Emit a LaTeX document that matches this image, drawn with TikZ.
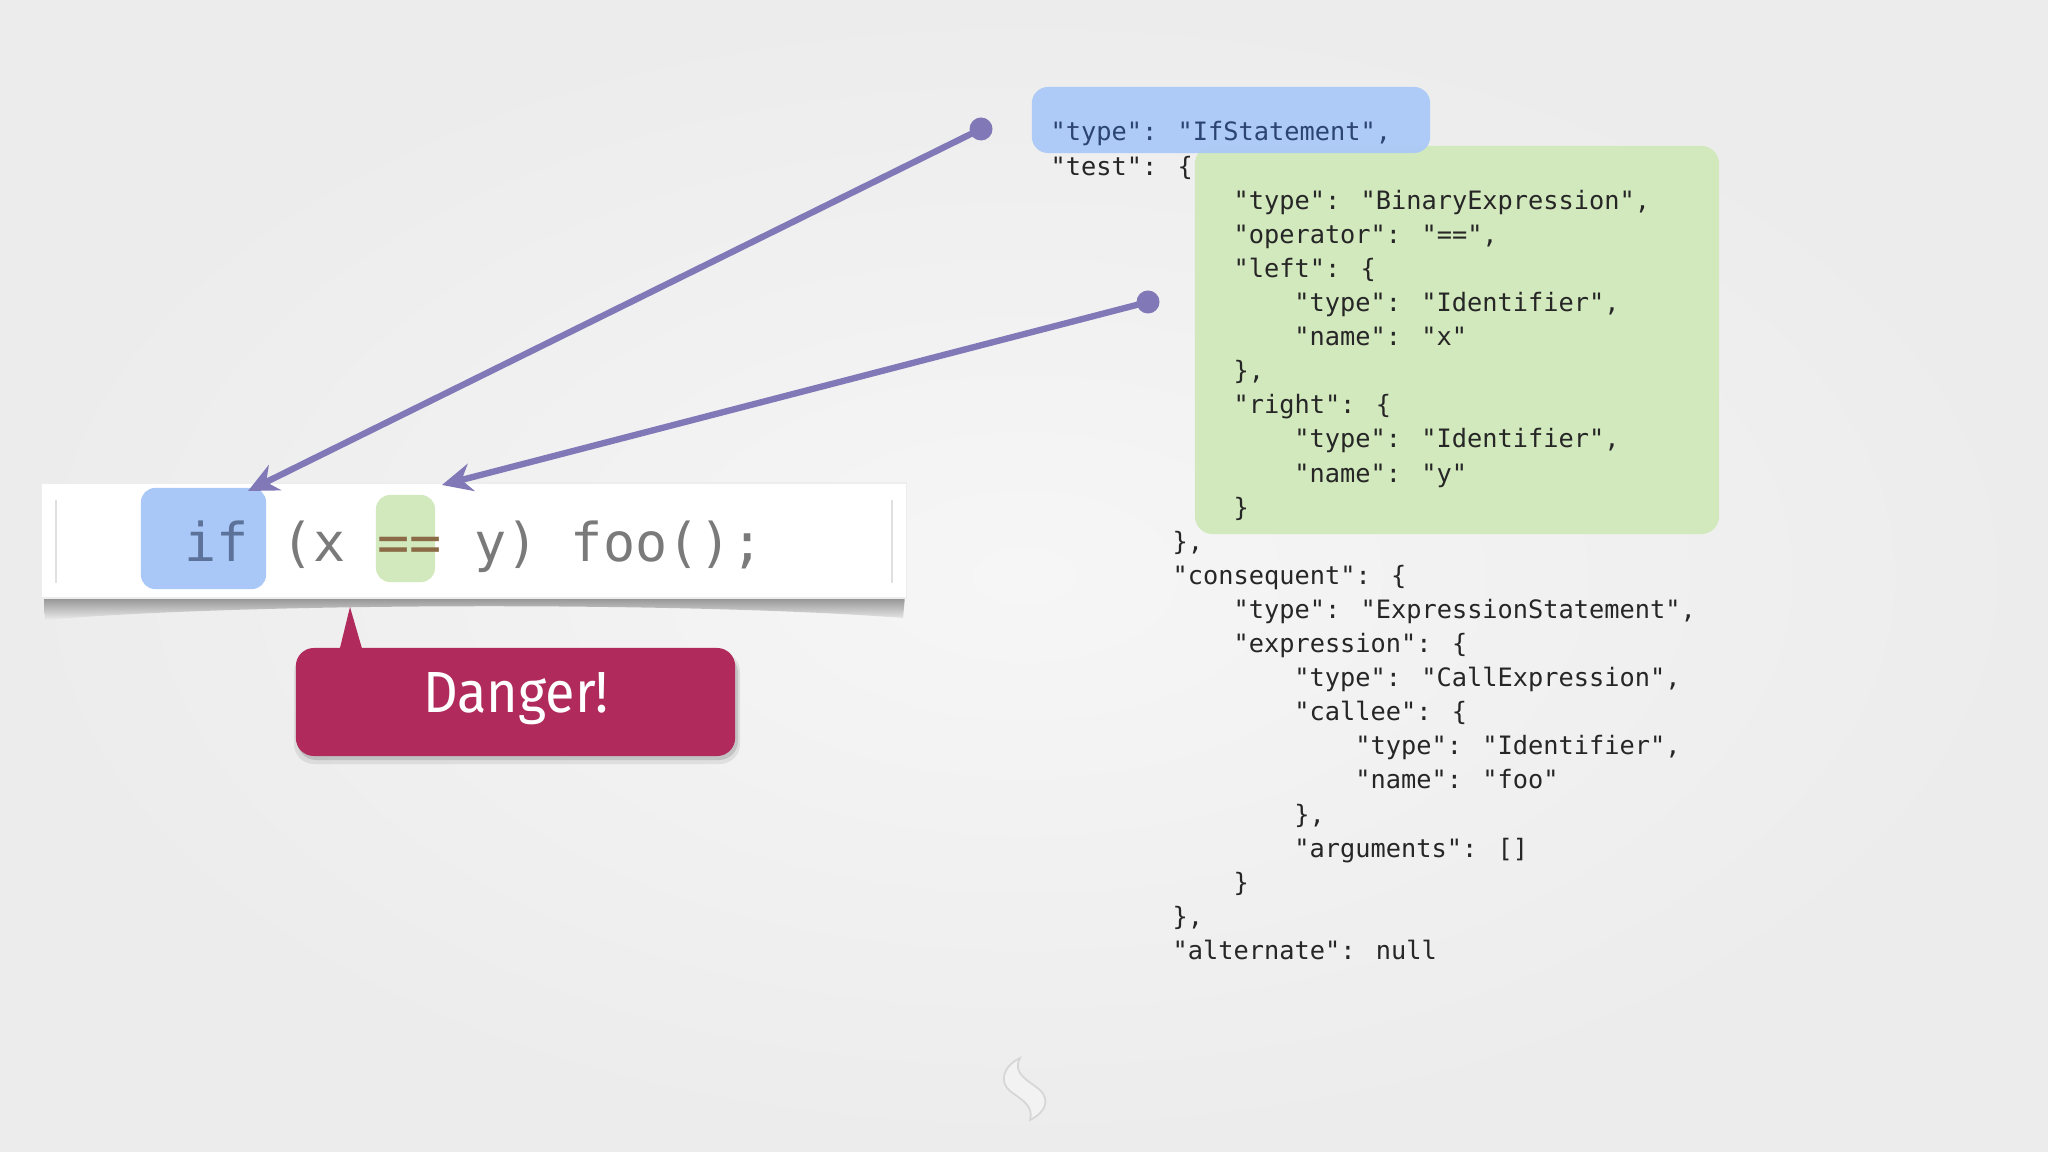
\documentclass[tikz,border=0pt]{standalone}
\usepackage{fontspec}
\usepackage{xcolor}
\usepackage{tikz}
\usetikzlibrary{arrows.meta}

\newfontfamily\codefont[Ligatures=ResetAll]{DejaVu Sans Mono}
\newfontfamily\calloutfont[FakeStretch=0.93]{Fira Sans}

\definecolor{bgin}{HTML}{F6F6F6}
\definecolor{bgout}{HTML}{ECECEC}
\definecolor{ifblue}{HTML}{A9C8F8}
\definecolor{astgreen}{HTML}{D2E8BD}
\definecolor{linkpurple}{HTML}{8078B7}
\definecolor{dangerred}{HTML}{B02A5B}
\definecolor{codegrey}{HTML}{7A7A7A}
\definecolor{ifword}{HTML}{5C7299}
\definecolor{eqword}{HTML}{8B6B47}
\definecolor{jsontext}{HTML}{262626}
\definecolor{jsonblue}{HTML}{2B4470}

\begin{document}
\begin{tikzpicture}[x=0.01cm, y=-0.01cm,
  codebar/.style={rectangle, fill=white, draw=black!7, inner sep=0pt,
    minimum width=8.64cm, minimum height=1.15cm},
  hlbox/.style={rectangle, rounded corners=0.14cm, inner sep=0pt},
  json/.style={font=\codefont\fontsize{7.2pt}{9.7pt}\selectfont,
    anchor=base west, inner sep=0pt, text=jsontext},
  dot/.style={circle, fill=linkpurple, inner sep=0pt, minimum size=0.23cm},
  link/.style={-{Stealth[length=0.3cm, width=0.28cm]}, line width=1.8pt,
    draw=linkpurple},
  callout/.style={rectangle, rounded corners=0.18cm, fill=dangerred,
    inner sep=0pt, minimum width=4.39cm, minimum height=1.08cm}
]
  \useasboundingbox (0,0) rectangle (2048,1152);
  \shade[inner color=bgin, outer color=bgout] (0,0) rectangle (2048,1152);

  % logo
  \filldraw[fill=black!5, draw=black!16, line width=0.5pt]
    (1020,1058) .. controls (1003,1066) and (999,1082) .. (1010,1091)
    .. controls (1022,1100) and (1034,1106) .. (1030,1120)
    .. controls (1046,1112) and (1050,1100) .. (1040,1090)
    .. controls (1028,1080) and (1012,1074) .. (1020,1058) -- cycle;

  % source line
  \shade[top color=black!45, bottom color=bgout] (44,596) -- (905,596) -- (903,618)
    .. controls (700,602) and (250,602) .. (45,620) -- cycle;
  \node[codebar] (bar) at (474,540.5) {};
  \draw[black!12, line width=0.6pt] (56,500) -- (56,583);
  \draw[black!12, line width=0.6pt] (892,500) -- (892,583);
  \node[hlbox, fill=ifblue, minimum width=1.25cm, minimum height=1.01cm]
    (ifMark) at (203.5,538.5) {};
  \node[hlbox, fill=astgreen, minimum width=0.59cm, minimum height=0.87cm]
    (eqMark) at (405.5,538.5) {};
  \node[font=\codefont\fontsize{15.2pt}{18pt}\selectfont, text=codegrey,
    anchor=base west, inner sep=0pt] (code) at (184,562)
    {{\color{ifword}if} (x {\color{eqword}==} y) foo();};

  % callout
  \fill[black, opacity=.08, rounded corners=0.2cm] (294,652) rectangle (740,764);
  \fill[black, opacity=.12, rounded corners=0.19cm] (297,654) rectangle (738,760);
  \fill[dangerred] (339,652) -- (350,607) -- (363,652) -- cycle;
  \node[callout] (danger) at (515.5,702) {};
  \node[font=\calloutfont\fontsize{16.5pt}{18pt}\selectfont, text=white,
    anchor=base, inner sep=0pt] (dangerText) at (516,712) {Danger!};

  % syntax tree
  \node[hlbox, rounded corners=0.18cm, fill=astgreen, minimum width=5.24cm,
    minimum height=3.88cm] (testBox) at (1457,340) {};
  \node[hlbox, rounded corners=0.16cm, fill=ifblue, opacity=.92,
    minimum width=3.98cm, minimum height=0.66cm] (typeBox) at (1231,120) {};
  \node[json, text=jsonblue] (j1) at (1050,141) {"type": "IfStatement",};
  \foreach \ind/\txt [count=\i from 2] in {
      0/{"test": \{},
      12/{"type": "BinaryExpression",},
      12/{"operator": "==",},
      12/{"left": \{},
      16/{"type": "Identifier",},
      16/{"name": "x"},
      12/{\},},
      12/{"right": \{},
      16/{"type": "Identifier",},
      16/{"name": "y"},
      12/{\}},
      8/{\},},
      8/{"consequent": \{},
      12/{"type": "ExpressionStatement",},
      12/{"expression": \{},
      16/{"type": "CallExpression",},
      16/{"callee": \{},
      20/{"type": "Identifier",},
      20/{"name": "foo"},
      16/{\},},
      16/{"arguments": []},
      12/{\}},
      8/{\},},
      8/{"alternate": null}}
    \node[json] (j\i) at ({1050+\ind*15.236},{141+(\i-1)*34.1}) {\txt};

  % links
  \node[dot] (ifDot) at (981,129) {};
  \node[dot] (testDot) at (1148,302) {};
  \coordinate (ifTip) at (248,491);
  \coordinate (eqTip) at (442,485);
  \draw[link] (ifDot.center) -- (ifTip);
  \draw[link] (testDot.center) -- (eqTip);
\end{tikzpicture}
\end{document}
